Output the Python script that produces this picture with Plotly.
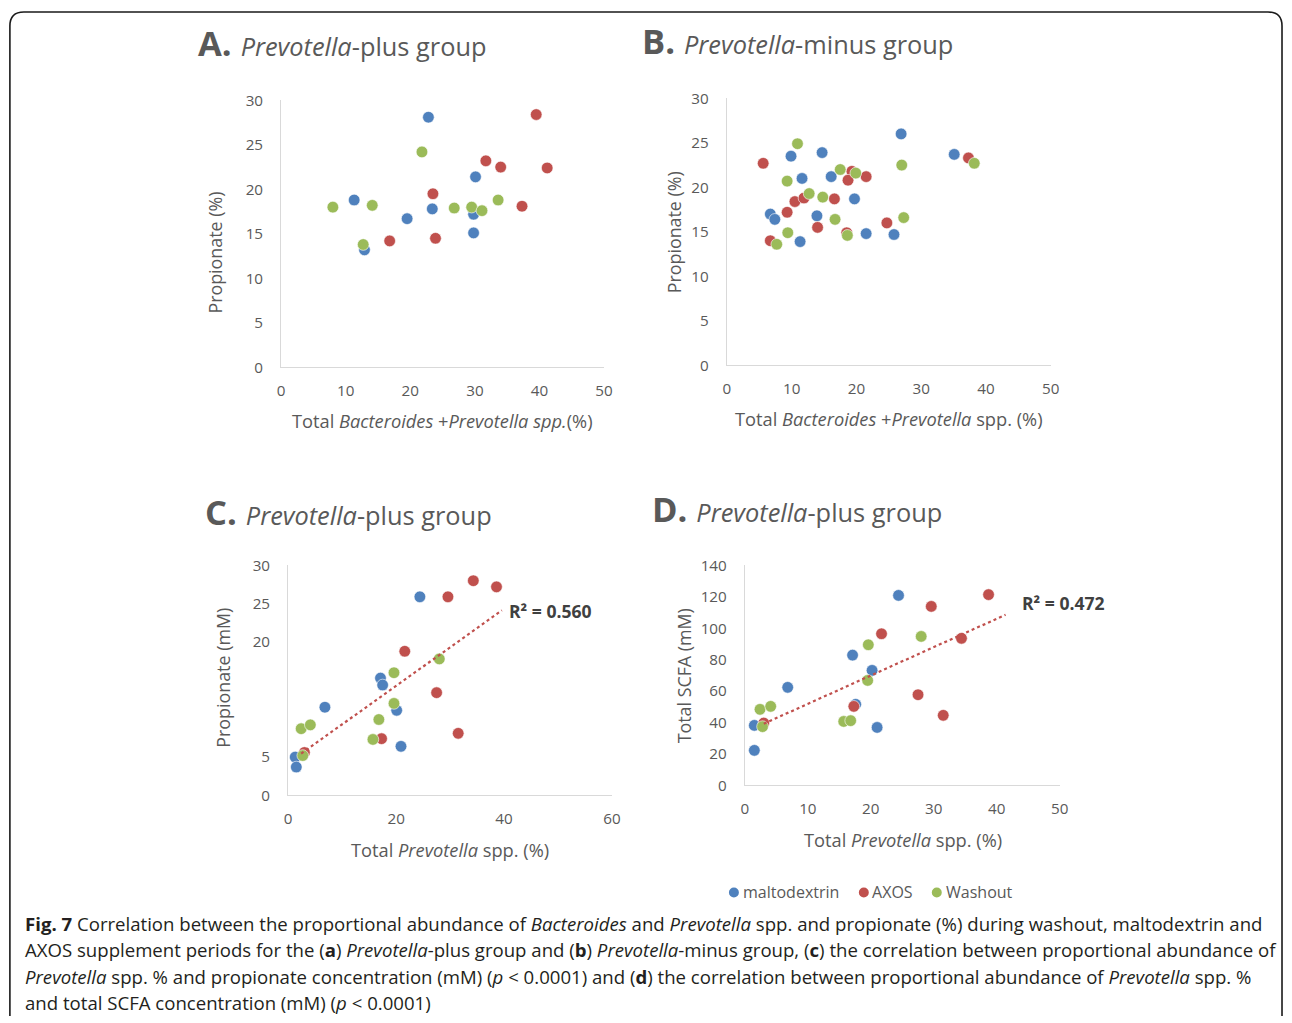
import numpy as np
import plotly.graph_objects as go

# Figure fills the whole 1292x1023 page (body margin removed after drawing).
OFF = 0
FW, FH = 1292, 1023
# calibration of the capture (page px -> picture px), measured from a previous render
CAL_AX, CAL_SX = 3.6, 0.9906
CAL_AY, CAL_SY = 10.7, 0.9803
FS = 1 / ((CAL_SX + CAL_SY) / 2)

# ---------------- data ----------------
series_names = ["maltodextrin", "AXOS", "Washout"]
colors = ["#4F81BD", "#C0504D", "#9BBB59"]

# Panel A: Prevotella-plus, Total Bacteroides+Prevotella (%) vs Propionate (%)
a_malto_x = [22.8, 11.3, 12.9, 19.5, 23.4, 30.1, 29.8, 29.8]
a_malto_y = [28.1, 18.8, 13.2, 16.7, 17.8, 21.4, 17.2, 15.1]
a_axos_x = [39.5, 31.7, 34.0, 41.2, 23.5, 37.3, 16.8, 23.9]
a_axos_y = [28.4, 23.2, 22.5, 22.4, 19.5, 18.1, 14.2, 14.5]
a_wash_x = [21.8, 8.0, 14.1, 12.7, 26.8, 29.5, 31.1, 33.6]
a_wash_y = [24.2, 18.0, 18.2, 13.8, 17.9, 18.0, 17.6, 18.8]

# Panel B: Prevotella-minus
b_malto_x = [26.9, 9.9, 14.7, 11.6, 16.1, 19.7, 6.7, 7.4, 13.9, 11.3, 21.5, 25.8, 35.1]
b_malto_y = [26.0, 23.5, 23.9, 21.0, 21.2, 18.7, 17.0, 16.4, 16.8, 13.9, 14.8, 14.7, 23.7]
b_axos_x = [5.6, 19.3, 18.7, 21.5, 10.5, 11.9, 16.6, 9.3, 14.0, 18.5, 24.7, 6.7, 37.3]
b_axos_y = [22.7, 21.8, 20.8, 21.2, 18.4, 18.8, 18.7, 17.2, 15.5, 14.9, 16.0, 14.0, 23.3]
b_wash_x = [10.9, 9.3, 17.5, 19.9, 12.7, 14.8, 16.7, 27.3, 27.0, 9.4, 18.6, 7.7, 38.2]
b_wash_y = [24.9, 20.7, 22.0, 21.6, 19.3, 18.9, 16.4, 16.6, 22.5, 14.9, 14.6, 13.6, 22.7]

# Panel C: Total Prevotella spp. (%) vs Propionate (mM)
c_malto_x = [24.4, 17.1, 17.5, 6.8, 20.1, 20.9, 1.3, 1.5]
c_malto_y = [25.9, 15.3, 14.4, 11.5, 11.1, 6.4, 5.0, 3.7]
c_axos_x = [34.3, 38.6, 29.6, 21.6, 27.5, 31.5, 17.3, 3.0]
c_axos_y = [28.0, 27.2, 25.9, 18.8, 13.4, 8.1, 7.4, 5.6]
c_wash_x = [28.0, 19.6, 19.6, 16.8, 15.7, 2.4, 4.1, 2.7]
c_wash_y = [17.8, 16.0, 12.0, 9.9, 7.3, 8.7, 9.2, 5.2]
c_trend_x = [2.4, 39.6]
c_r2_label = "R² = 0.560"

# Panel D: Total Prevotella spp. (%) vs Total SCFA (mM)
d_malto_x = [24.4, 17.1, 20.2, 6.8, 17.6, 1.5, 21.0, 1.5]
d_malto_y = [120.9, 82.9, 73.2, 62.4, 51.6, 38.2, 36.9, 22.3]
d_axos_x = [38.7, 29.6, 21.7, 34.4, 27.5, 31.5, 17.3, 3.0]
d_axos_y = [121.4, 113.9, 96.5, 93.6, 57.7, 44.6, 50.3, 39.7]
d_wash_x = [19.6, 28.0, 19.5, 15.7, 16.8, 2.4, 4.1, 2.8]
d_wash_y = [89.5, 94.8, 66.8, 40.7, 41.2, 48.4, 50.3, 37.4]
d_trend_x = [3.0, 41.4]
d_r2_label = "R² = 0.472"

# ---------------- helpers ----------------
def px(x):
    page = (x - CAL_AX) / CAL_SX
    return (page - OFF) / FW

def py(y):
    page = (y - CAL_AY) / CAL_SY
    return 1 - (page - OFF) / FH

FONT = "Open Sans"
GRAY = "#595959"

fig = go.Figure()

panels = [
    dict(xs=[a_malto_x, a_axos_x, a_wash_x], ys=[a_malto_y, a_axos_y, a_wash_y],
         dom_x=(281, 604), dom_y=(367, 100), xr=[0, 50], yr=[0, 30],
         xt=[0, 10, 20, 30, 40, 50], yt=[0, 5, 10, 15, 20, 25, 30], trend=None),
    dict(xs=[b_malto_x, b_axos_x, b_wash_x], ys=[b_malto_y, b_axos_y, b_wash_y],
         dom_x=(727, 1051), dom_y=(365, 98), xr=[0, 50], yr=[0, 30],
         xt=[0, 10, 20, 30, 40, 50], yt=[0, 5, 10, 15, 20, 25, 30], trend=None),
    dict(xs=[c_malto_x, c_axos_x, c_wash_x], ys=[c_malto_y, c_axos_y, c_wash_y],
         dom_x=(288, 612), dom_y=(795, 565), xr=[0, 60], yr=[0, 30],
         xt=[0, 20, 40, 60], yt=[0, 5, 20, 25, 30], trend=c_trend_x),
    dict(xs=[d_malto_x, d_axos_x, d_wash_x], ys=[d_malto_y, d_axos_y, d_wash_y],
         dom_x=(745, 1060), dom_y=(785, 565), xr=[0, 50], yr=[0, 140],
         xt=[0, 10, 20, 30, 40, 50], yt=[0, 20, 40, 60, 80, 100, 120, 140], trend=d_trend_x),
]

for i, p in enumerate(panels):
    k = "" if i == 0 else str(i + 1)
    xa, ya = "x" + k, "y" + k
    for s in range(3):
        fig.add_trace(go.Scatter(
            x=p["xs"][s], y=p["ys"][s], mode="markers", name=series_names[s],
            showlegend=False,
            marker=dict(size=11.5 * FS, color=colors[s], line=dict(width=0.6, color="white")),
            xaxis=xa, yaxis=ya, cliponaxis=False))
    if p["trend"]:
        allx = np.concatenate([np.array(v, float) for v in p["xs"]])
        ally = np.concatenate([np.array(v, float) for v in p["ys"]])
        m, b = np.polyfit(allx, ally, 1)
        tx = np.array(p["trend"], float)
        fig.add_trace(go.Scatter(
            x=tx, y=m * tx + b, mode="lines", showlegend=False,
            line=dict(color="#C0504D", width=2.2, dash="dot"),
            xaxis=xa, yaxis=ya, hoverinfo="skip", cliponaxis=False))
    axis_common = dict(showline=True, linecolor="#D9D9D9", linewidth=1.2, showgrid=False,
                       zeroline=False, ticks="",
                       tickfont=dict(family=FONT, size=15 * FS, color=GRAY))
    fig.update_layout(**{
        ("xaxis" + k): dict(domain=[px(p["dom_x"][0]), px(p["dom_x"][1])], range=p["xr"],
                            tickvals=p["xt"], anchor=ya, ticklabelstandoff=9, **axis_common),
        ("yaxis" + k): dict(domain=[py(p["dom_y"][0]), py(p["dom_y"][1])], range=p["yr"],
                            tickvals=p["yt"], anchor=xa, ticklabelstandoff=14, **axis_common),
    })

annotations = []

def ann(text, x, y, size, xanchor="center", yanchor="middle", angle=0, color=GRAY, family=FONT):
    if xanchor == "left":
        x -= 2.5  # annotation box padding
    annotations.append(dict(text=text, x=px(x), y=py(y), xref="paper", yref="paper",
                            showarrow=False, xanchor=xanchor, yanchor=yanchor, textangle=angle,
                            align="left", font=dict(family=family, size=size * FS, color=color)))

# panel titles
for letter, label, x0, yc in [("A", "plus", 198, 42), ("B", "minus", 643, 40),
                              ("C", "plus", 205, 511), ("D", "plus", 653, 508)]:
    ann(f"<b>{letter}.</b> <span style='font-size:{25 * FS:.2f}px'><i>Prevotella</i>-{label} group</span>",
        x0, yc, 34, xanchor="left")

# axis titles
ann("Propionate (%)", 215, 252, 17.6, angle=-90)
ann("Total <i>Bacteroides</i> +<i>Prevotella spp.</i>(%)", 442, 420, 18)
ann("Propionate (%)", 674, 232, 17.6, angle=-90)
ann("Total <i>Bacteroides</i> +<i>Prevotella</i> spp. (%)", 889, 418, 18)
ann("Propionate (mM)", 223, 677, 17.6, angle=-90)
ann("Total <i>Prevotella</i> spp. (%)", 450, 849, 18)
ann("Total SCFA (mM)", 684, 675, 17.6, angle=-90)
ann("Total <i>Prevotella</i> spp. (%)", 903, 839, 18)

# R² labels
ann("<b>" + c_r2_label + "</b>", 509, 611, 17.3, xanchor="left", color="#404040")
ann("<b>" + d_r2_label + "</b>", 1023, 603, 17.3, xanchor="left", color="#404040")

# legend (custom, compact like the original)
shapes = []
for name, col, dot_x, text_x in [("maltodextrin", colors[0], 734, 744),
                                 ("AXOS", colors[1], 864, 873),
                                 ("Washout", colors[2], 937, 947)]:
    shapes.append(dict(type="circle", xref="paper", yref="paper",
                       x0=px(dot_x - 5), x1=px(dot_x + 5), y0=py(892 + 5), y1=py(892 - 5),
                       fillcolor=col, line=dict(width=0)))
    ann(name, text_x, 892, 15.8, xanchor="left")

# caption
cap_lines = [
    "<b>Fig. 7</b> Correlation between the proportional abundance of <i>Bacteroides</i> and <i>Prevotella</i> spp. and propionate (%) during washout, maltodextrin and",
    "AXOS supplement periods for the (<b>a</b>) <i>Prevotella</i>-plus group and (<b>b</b>) <i>Prevotella</i>-minus group, (<b>c</b>) the correlation between proportional abundance of",
    "<i>Prevotella</i> spp. % and propionate concentration (mM) (<i>p</i> &lt; 0.0001) and (<b>d</b>) the correlation between proportional abundance of <i>Prevotella</i> spp. %",
    "and total SCFA concentration (mM) (<i>p</i> &lt; 0.0001)",
]
for j, line in enumerate(cap_lines):
    ann(line, 25, 923 + j * 26.3, 18.33, xanchor="left", color="#231F20")

# rounded frame (clamped to the drawable page area; bottom edge lies below the picture)
def clamp_x(t):
    return min(max(t, CAL_AX + (OFF + 1) * CAL_SX), CAL_AX + (OFF + FW - 1) * CAL_SX)

def clamp_y(t):
    return min(max(t, CAL_AY + (OFF + 1) * CAL_SY), CAL_AY + (OFF + FH - 1) * CAL_SY)

L, T, R, r = clamp_x(9.5), clamp_y(8.5), clamp_x(1290.5), 14
B_open = CAL_AY + (OFF + FH + 2) * CAL_SY
path = (f"M {px(L)},{py(B_open)} L {px(L)},{py(T+r)} Q {px(L)},{py(T)} {px(L+r)},{py(T)} "
        f"L {px(R-r)},{py(T)} Q {px(R)},{py(T)} {px(R)},{py(T+r)} L {px(R)},{py(B_open)}")
shapes.append(dict(type="path", path=path, xref="paper", yref="paper",
                   line=dict(color="#1a1a1a", width=1.6), fillcolor="rgba(0,0,0,0)"))

fig.update_layout(
    width=FW, height=FH, margin=dict(l=0, r=0, t=0, b=0),
    paper_bgcolor="white", plot_bgcolor="white",
    annotations=annotations, shapes=shapes, showlegend=False,
)

fig.write_html("out.html", config={"displayModeBar": False},
               post_script="document.body.style.margin='0';")
